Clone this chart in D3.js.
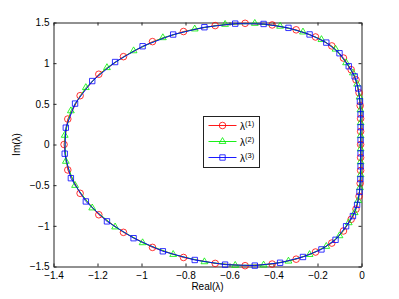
<!DOCTYPE html>
<html>
<head>
<meta charset="utf-8">
<script src="https://cdn.jsdelivr.net/npm/d3@7"></script>
<style>
  html, body { margin: 0; padding: 0; background: #fff; }
  svg { display: block; font-family: "Liberation Sans", Arial, Helvetica, sans-serif; }
</style>
</head>
<body>
<div id="chart"></div>
<script>
// eigenvalue curves (real / imaginary parts)
const re1 = [-1.352, -1.335, -1.279, -1.194, -1.082, -0.950, -0.809, -0.665, -0.529, -0.406,
  -0.297, -0.209, -0.135, -0.082, -0.047, -0.025, -0.011, -0.006, -0.004, -0.004,
  -0.004, -0.004, -0.004, -0.006, -0.011, -0.025, -0.047, -0.082, -0.135, -0.209,
  -0.297, -0.406, -0.529, -0.665, -0.809, -0.950, -1.082, -1.194, -1.279, -1.335];
const im1 = [0.000, 0.313, 0.600, 0.864, 1.080, 1.265, 1.389, 1.462, 1.490, 1.470,
  1.410, 1.322, 1.212, 1.063, 0.920, 0.795, 0.636, 0.478, 0.319, 0.161,
  0.000, -0.161, -0.319, -0.478, -0.636, -0.795, -0.920, -1.063, -1.212, -1.322,
  -1.410, -1.470, -1.490, -1.462, -1.389, -1.265, -1.080, -0.864, -0.600, -0.313];

const re2 = [-1.349, -1.321, -1.253, -1.157, -1.036, -0.903, -0.758, -0.620, -0.485, -0.370,
  -0.266, -0.182, -0.118, -0.070, -0.039, -0.020, -0.009, -0.005, -0.004, -0.004,
  -0.004, -0.004, -0.004, -0.007, -0.015, -0.031, -0.058, -0.100, -0.160, -0.236,
  -0.332, -0.445, -0.574, -0.714, -0.856, -0.995, -1.120, -1.224, -1.302, -1.344];
const im2 = [0.113, 0.414, 0.700, 0.945, 1.152, 1.313, 1.420, 1.477, 1.489, 1.454,
  1.383, 1.290, 1.172, 1.005, 0.880, 0.742, 0.583, 0.425, 0.267, 0.108,
  -0.055, -0.214, -0.372, -0.531, -0.689, -0.838, -0.962, -1.122, -1.253, -1.353,
  -1.434, -1.482, -1.486, -1.442, -1.352, -1.208, -1.014, -0.780, -0.503, -0.207];

const re3 = [-1.344, -1.302, -1.224, -1.120, -0.995, -0.856, -0.714, -0.574, -0.445, -0.332,
  -0.236, -0.160, -0.100, -0.058, -0.031, -0.015, -0.007, -0.004, -0.004, -0.004,
  -0.004, -0.004, -0.005, -0.009, -0.020, -0.039, -0.070, -0.118, -0.182, -0.266,
  -0.370, -0.485, -0.620, -0.758, -0.903, -1.036, -1.157, -1.253, -1.321, -1.349];
const im3 = [0.207, 0.503, 0.780, 1.014, 1.208, 1.352, 1.442, 1.486, 1.482, 1.434,
  1.353, 1.253, 1.122, 0.962, 0.838, 0.689, 0.531, 0.372, 0.214, 0.055,
  -0.108, -0.267, -0.425, -0.583, -0.742, -0.880, -1.005, -1.172, -1.290, -1.383,
  -1.454, -1.489, -1.477, -1.420, -1.313, -1.152, -0.945, -0.700, -0.414, -0.113];

const xTicks = [-1.4, -1.2, -1, -0.8, -0.6, -0.4, -0.2, 0];
const yTicks = [-1.5, -1, -0.5, 0, 0.5, 1, 1.5];
const seriesNames = ["(1)", "(2)", "(3)"];

const width = 399, height = 299;

const x = d3.scaleLinear().domain([-1.4, 0]).range([53.5, 361.5]);
const y = d3.scaleLinear().domain([-1.5, 1.5]).range([266.5, 22.5]);

const svg = d3.select("#chart").append("svg")
  .attr("width", width)
  .attr("height", height);

svg.append("rect").attr("width", width).attr("height", height).attr("fill", "#fff");

const fmt = d => String(d).replace("-", "\u2212");

// axes, ticks pointing inward like matlab
const gx = svg.append("g").attr("transform", `translate(0,${y.range()[0]})`)
  .call(d3.axisBottom(x).tickValues(xTicks).tickFormat(fmt).tickSizeInner(-3).tickSizeOuter(0).tickPadding(5));
const gxTop = svg.append("g").attr("transform", `translate(0,${y.range()[1]})`)
  .call(d3.axisTop(x).tickValues(xTicks).tickFormat("").tickSizeInner(-3).tickSizeOuter(0));
const gy = svg.append("g").attr("transform", `translate(${x.range()[0]},0)`)
  .call(d3.axisLeft(y).tickValues(yTicks).tickFormat(fmt).tickSizeInner(-3).tickSizeOuter(0).tickPadding(4));
const gyRight = svg.append("g").attr("transform", `translate(${x.range()[1]},0)`)
  .call(d3.axisRight(y).tickValues(yTicks).tickFormat("").tickSizeInner(-3).tickSizeOuter(0));

svg.selectAll(".domain, .tick line").attr("stroke", "#222").attr("stroke-width", 1);
svg.selectAll(".tick text").attr("fill", "#000").style("font-size", "10px")
  .style("font-family", '"Liberation Sans", Arial, sans-serif');

// axis labels
svg.append("text")
  .attr("x", (x.range()[0] + x.range()[1]) / 2)
  .attr("y", 290)
  .attr("text-anchor", "middle")
  .style("font-size", "10px")
  .text("Real(\u03bb)");

svg.append("text")
  .attr("transform", `translate(20,${(y.range()[0] + y.range()[1]) / 2}) rotate(-90)`)
  .attr("text-anchor", "middle")
  .style("font-size", "10px")
  .text("Im(\u03bb)");

const series = [
  { re: re1, im: im1, color: "#ff0000", symbol: d3.symbolCircle, size: 34 },
  { re: re2, im: im2, color: "#00ee00", symbol: d3.symbolTriangle, size: 20 },
  { re: re3, im: im3, color: "#0000ff", symbol: d3.symbolSquare, size: 29 }
];

const line = d3.line().curve(d3.curveLinearClosed)
  .x(d => x(d[0])).y(d => y(d[1]));

series.forEach(s => {
  const pts = s.re.map((v, i) => [v, s.im[i]]);
  const g = svg.append("g");
  g.append("path")
    .attr("d", line(pts))
    .attr("fill", "none")
    .attr("stroke", s.color)
    .attr("stroke-width", 0.9);
  g.selectAll("path.mk")
    .data(pts)
    .join("path")
    .attr("class", "mk")
    .attr("transform", d => `translate(${x(d[0])},${y(d[1])})`)
    .attr("d", d3.symbol().type(s.symbol).size(s.size))
    .attr("fill", "none")
    .attr("stroke", s.color)
    .attr("stroke-width", 0.8);
});

// legend
const lg = svg.append("g").attr("transform", "translate(203.5,116.5)");
lg.append("rect")
  .attr("width", 56).attr("height", 51)
  .attr("fill", "#fff")
  .attr("stroke", "#222")
  .attr("stroke-width", 1);

series.forEach((s, i) => {
  const cy = 9 + i * 16;
  lg.append("line")
    .attr("x1", 5).attr("x2", 33).attr("y1", cy).attr("y2", cy)
    .attr("stroke", s.color).attr("stroke-width", 0.9);
  lg.append("path")
    .attr("transform", `translate(19,${cy})`)
    .attr("d", d3.symbol().type(s.symbol).size(s.size))
    .attr("fill", "none")
    .attr("stroke", s.color)
    .attr("stroke-width", 0.8);
  const t = lg.append("text")
    .attr("x", 36.5).attr("y", cy + 4.5)
    .style("font-size", "10px");
  t.append("tspan").text("\u03bb");
  t.append("tspan").attr("dy", -4.5).style("font-size", "7.5px").text(seriesNames[i]);
});
</script>
</body>
</html>
